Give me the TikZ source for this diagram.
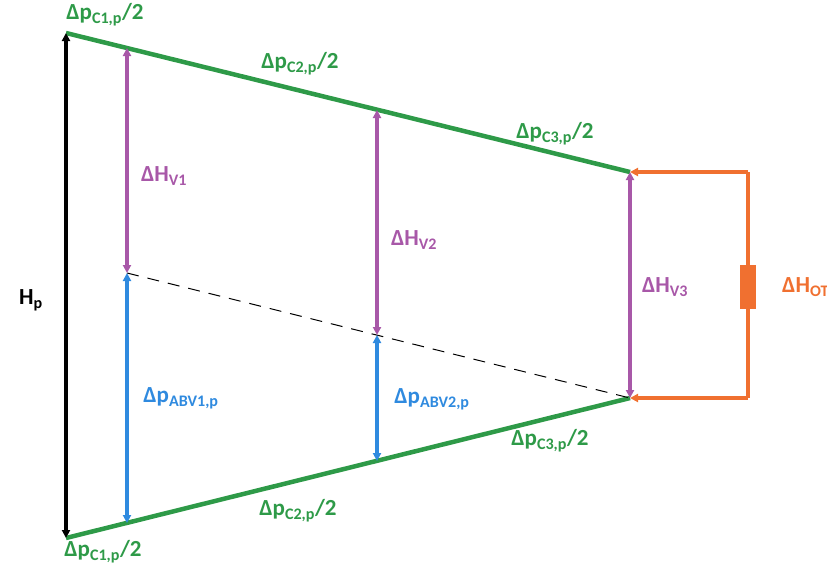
\documentclass[tikz,border=0pt]{standalone}
\usepackage{fontspec}
\setmainfont{Carlito}
\usetikzlibrary{arrows.meta}
\definecolor{cgreen}{HTML}{2E9A48}
\definecolor{cpurple}{HTML}{A858A8}
\definecolor{cblue}{HTML}{2F8ADF}
\definecolor{corange}{HTML}{F07030}
\begin{document}
\begin{tikzpicture}[x=1pt,y=-1pt,
  lab/.style={font=\bfseries\fontsize{23}{26}\selectfont, inner sep=1pt},
  tip/.style={-{Triangle[length=8pt,width=8pt]}},
  dtip/.style={{Triangle[length=8pt,width=8pt]}-{Triangle[length=8pt,width=8pt]}}]
\useasboundingbox (0,0) rectangle (827,566);
% points
\coordinate (T1) at (66,33);
\coordinate (T3) at (630,172);
\coordinate (B1) at (66,538);
\coordinate (B3) at (630,398);
\coordinate (TA) at (127,48);
\coordinate (TB) at (377,110);
\coordinate (MA) at (127,273);
\coordinate (MB) at (377,335);
\coordinate (BA) at (127,523);
\coordinate (BB) at (377,461);
\coordinate (OR1) at (748,172);
\coordinate (OR2) at (748,398);
% green lines
\draw[cgreen, line width=4.5pt] (T1) -- (T3);
\draw[cgreen, line width=4.5pt] (B1) -- (B3);
% dashed
\draw[black, line width=1pt, dash pattern=on 12pt off 9pt] (MA) -- (B3);
% black
\draw[black, line width=3.5pt, dtip] (B1) -- (T1);
% purple
\draw[cpurple, line width=3.5pt, dtip] (MA) -- (TA);
\draw[cpurple, line width=3.5pt, dtip] (MB) -- (TB);
\draw[cpurple, line width=3.5pt, dtip] (B3) -- (T3);
% blue
\draw[cblue, line width=3.5pt, dtip] (BA) -- (MA);
\draw[cblue, line width=3.5pt, dtip] (BB) -- (MB);
% orange
\draw[corange, line width=4pt, tip] (OR1) -- (T3);
\draw[corange, line width=4pt, tip] (OR2) -- (B3);
\draw[corange, line width=4pt] (OR1) -- (OR2);
\node[fill=corange, minimum width=16pt, minimum height=44pt, inner sep=0pt] (R) at (748,287) {};
% labels
\node[lab, text=cgreen] (l1) at (105,15) {Δp\textsubscript{C1,p}/2};
\node[lab, text=cgreen] (l2) at (300,64) {Δp\textsubscript{C2,p}/2};
\node[lab, text=cgreen] (l3) at (555,134) {Δp\textsubscript{C3,p}/2};
\node[lab, text=cgreen] (l4) at (550,441) {Δp\textsubscript{C3,p}/2};
\node[lab, text=cgreen] (l5) at (298,511) {Δp\textsubscript{C2,p}/2};
\node[lab, text=cgreen] (l6) at (103,552) {Δp\textsubscript{C1,p}/2};
\node[lab, text=cpurple] (v1) at (164,176) {ΔH\textsubscript{V1}};
\node[lab, text=cpurple] (v2) at (414,240) {ΔH\textsubscript{V2}};
\node[lab, text=cpurple] (v3) at (665,287) {ΔH\textsubscript{V3}};
\node[lab, text=cblue] (a1) at (181,398) {Δp\textsubscript{ABV1,p}};
\node[lab, text=cblue] (a2) at (432,399) {Δp\textsubscript{ABV2,p}};
\node[lab, text=black] (hp) at (31,300) {H\textsubscript{p}};
\node[lab, text=corange, anchor=west] (ot) at (781,287) {ΔH\textsubscript{OT}};
\end{tikzpicture}
\end{document}
